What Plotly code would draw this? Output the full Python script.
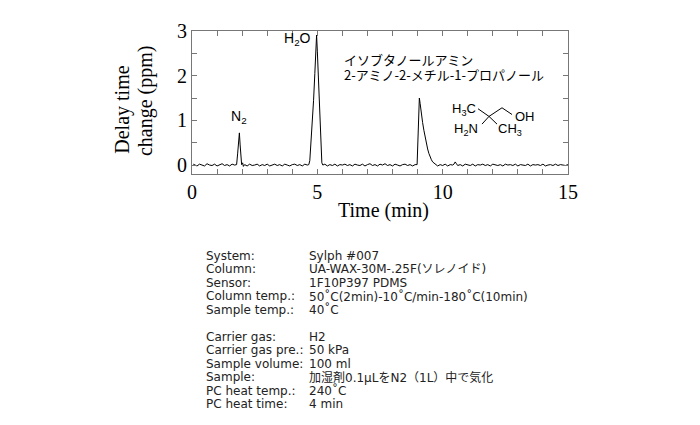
import plotly.graph_objects as go

# ---- data ----
time_min = [
    0.05, 0.10, 0.20, 0.30, 0.40, 0.50, 0.60, 0.70, 0.80, 0.90, 1.00, 1.10, 1.20, 1.30, 1.40,
    1.50, 1.60, 1.70, 1.78, 1.82, 1.86, 1.89, 1.92, 1.95, 1.98, 2.02, 2.05, 2.10, 2.20, 2.30,
    2.40, 2.50, 2.60, 2.70, 2.80, 2.90, 3.00, 3.10, 3.20, 3.30, 3.40, 3.50, 3.60, 3.70, 3.80,
    3.90, 4.00, 4.10, 4.20, 4.30, 4.40, 4.50, 4.60, 4.66, 4.70, 4.75, 4.80, 4.85, 4.90, 4.95,
    4.97, 5.00, 5.05, 5.10, 5.15, 5.18, 5.22, 5.30, 5.40, 5.50, 5.60, 5.70, 5.80, 5.90, 6.00,
    6.10, 6.20, 6.30, 6.40, 6.50, 6.60, 6.70, 6.80, 6.90, 7.00, 7.10, 7.20, 7.30, 7.40, 7.50,
    7.60, 7.70, 7.80, 7.90, 8.00, 8.10, 8.20, 8.30, 8.40, 8.50, 8.60, 8.70, 8.80, 8.90, 8.98,
    9.01, 9.04, 9.07, 9.10, 9.15, 9.20, 9.25, 9.30, 9.35, 9.40, 9.45, 9.50, 9.55, 9.60, 9.65,
    9.70, 9.75, 9.80, 9.90, 10.00, 10.10, 10.20, 10.30, 10.40, 10.45, 10.50, 10.55, 10.60, 10.70, 10.80,
    10.90, 11.00, 11.10, 11.20, 11.30, 11.40, 11.50, 11.60, 11.70, 11.80, 11.90, 12.00, 12.10, 12.20, 12.30,
    12.40, 12.50, 12.60, 12.70, 12.80, 12.90, 13.00, 13.10, 13.20, 13.30, 13.40, 13.50, 13.60, 13.70, 13.80,
    13.90, 14.00, 14.10, 14.20, 14.30, 14.40, 14.50, 14.60, 14.70, 14.80, 14.90, 15.00,
]
delay_ppm = [
    0.02, 0.01, -0.02, 0.02, 0.00, -0.02, 0.03, 0.00, -0.01, 0.02, -0.02, 0.01, 0.03, -0.01, 0.01,
    -0.02, 0.02, 0.00, 0.01, 0.25, 0.62, 0.72, 0.45, 0.12, 0.01, 0.05, -0.03, 0.01, -0.02, 0.02,
    -0.01, 0.00, 0.02, -0.02, 0.01, -0.01, 0.02, -0.02, 0.00, 0.02, -0.01, 0.01, -0.02, 0.02, 0.00,
    -0.02, 0.01, 0.02, -0.01, 0.01, -0.02, 0.02, 0.00, 0.01, 0.10, 0.50, 0.95, 1.45, 2.05, 2.70,
    2.91, 2.55, 1.80, 1.05, 0.35, 0.05, 0.00, 0.02, -0.02, 0.01, -0.01, 0.02, -0.02, 0.01, 0.00,
    0.02, -0.01, 0.01, -0.02, 0.02, 0.00, -0.01, 0.02, -0.02, 0.01, 0.03, -0.01, 0.01, -0.02, 0.02,
    0.00, 0.03, -0.01, 0.01, -0.02, 0.02, 0.00, -0.02, 0.01, 0.02, -0.01, 0.01, -0.02, 0.01, 0.01,
    0.60, 1.30, 1.50, 1.38, 1.12, 0.95, 0.78, 0.62, 0.47, 0.36, 0.26, 0.18, 0.12, 0.07, 0.05,
    0.02, 0.01, -0.02, 0.01, -0.01, 0.02, -0.02, 0.01, 0.00, 0.02, 0.07, 0.03, -0.01, 0.01, -0.02,
    0.02, 0.00, -0.01, 0.02, -0.02, 0.01, 0.00, 0.02, -0.01, 0.01, -0.02, 0.02, 0.00, -0.01, 0.01,
    -0.02, 0.02, 0.00, 0.01, -0.01, 0.02, -0.02, 0.01, 0.00, -0.01, 0.02, -0.02, 0.01, 0.00, 0.01,
    -0.01, 0.02, -0.02, 0.00, 0.01, -0.01, 0.02, -0.01, 0.01, 0.00, -0.01, 0.01,
]

x_ticks = [0, 5, 10, 15]
y_ticks = [0, 1, 2, 3]

info_labels = ["System:", "Column:", "Sensor:", "Column temp.:", "Sample temp.:", "",
               "Carrier gas:", "Carrier gas pre.:", "Sample volume:", "Sample:",
               "PC heat temp.:", "PC heat time:"]
info_values = ["Sylph #007", "UA-WAX-30M-.25F(ソレノイド)", "1F10P397 PDMS",
               "50˚C(2min)-10˚C/min-180˚C(10min)", "40˚C", "",
               "H2", "50 kPa", "100 ml", "加湿剤0.1µLをN2（1L）中で気化",
               "240˚C", "4 min"]

# ---- layout geometry (window pixels; page has an 8px body margin) ----
W, H = 700, 425
OFF = 8
L, R, T, B = 192, 568, 25, 174


def px(x):
    return (x - L) / (R - L)


def py(y):
    return (B - y) / (B - T)


serif = "Liberation Serif, Times New Roman, serif"
sans = "DejaVu Sans, Noto Sans CJK JP, sans-serif"
jp = "Noto Sans CJK JP, sans-serif"
arial = "Liberation Sans, Arial, sans-serif"

fig = go.Figure()
fig.add_trace(go.Scatter(x=time_min, y=delay_ppm, mode="lines",
                         line=dict(color="black", width=1), showlegend=False,
                         hoverinfo="skip"))

axis_common = dict(showline=True, linecolor="#777777", linewidth=1, mirror="ticks",
                   ticks="inside", ticklen=5, tickcolor="#777777", showgrid=False,
                   zeroline=False, tickfont=dict(family=serif, size=20, color="black"))

fig.update_xaxes(range=[0, 15], tickvals=x_ticks, ticktext=[str(v) for v in x_ticks],
                 minor=dict(dtick=1, ticks="inside", ticklen=5, tickcolor="#777777"),
                 **axis_common)
fig.update_yaxes(range=[-0.2, 3.0], tickvals=y_ticks, ticktext=[str(v) for v in y_ticks],
                 minor=dict(dtick=0.5, tick0=0, ticks="inside", ticklen=5, tickcolor="#777777"),
                 **axis_common)


def note(x, y, text, font, xanchor="center", textangle=0):
    return dict(x=px(x), y=py(y), xref="paper", yref="paper", text=text, showarrow=False,
                xanchor=xanchor, yanchor="middle", textangle=textangle, font=font)


serif_font = dict(family=serif, size=20, color="black")
ann = []
# axis titles
ann.append(note(383, 212, "Time (min)", serif_font))
ann.append(note(123, 107, "Delay time", serif_font, textangle=-90))
ann.append(note(145, 98, "change (ppm)", serif_font, textangle=-90))

# peak labels
lab_font = dict(family=arial, size=14, color="black")
ann.append(note(239, 115, "N<sub>2</sub>", lab_font))
ann.append(note(297, 33, "H<sub>2</sub>O", lab_font))
jp_font = dict(family=jp, size=13, color="black")
ann.append(note(342, 55, "イソブタノールアミン", jp_font, xanchor="left"))
ann.append(note(342, 70, "2-アミノ-2-メチル-1-プロパノール", jp_font, xanchor="left"))

# structure labels
struct_font = dict(family=arial, size=13, color="black")
ann.append(note(478, 107, "H<sub>3</sub>C", struct_font, xanchor="right"))
ann.append(note(513, 114, "OH", struct_font, xanchor="left"))
ann.append(note(480, 128, "H<sub>2</sub>N", struct_font, xanchor="right"))
ann.append(note(496, 128, "CH<sub>3</sub>", struct_font, xanchor="left"))

# info block
info_font = dict(family=sans, size=12, color="#222222")
row0, dy = 259, 14.1
for i, (lab, val) in enumerate(zip(info_labels, info_values)):
    if not lab:
        continue
    ann.append(note(204, row0 + i * dy, lab, info_font, xanchor="left"))
    ann.append(note(307, row0 + i * dy, val, info_font, xanchor="left"))

# structure bonds
bonds = [((478, 106), (489, 114)), ((489, 114), (502, 105)), ((502, 105), (512, 112)),
         ((489, 114), (482, 122)), ((489, 114), (497, 122))]
shapes = []
for (x0, y0), (x1, y1) in bonds:
    shapes.append(dict(type="line", xref="paper", yref="paper", x0=px(x0), y0=py(y0),
                       x1=px(x1), y1=py(y1), line=dict(color="black", width=1)))

fig.update_layout(width=W - OFF, height=H - OFF,
                  margin=dict(l=L - OFF, r=W - R, t=T - OFF, b=H - B),
                  paper_bgcolor="white", plot_bgcolor="white", annotations=ann,
                  shapes=shapes)

fig.write_html("out.html")
